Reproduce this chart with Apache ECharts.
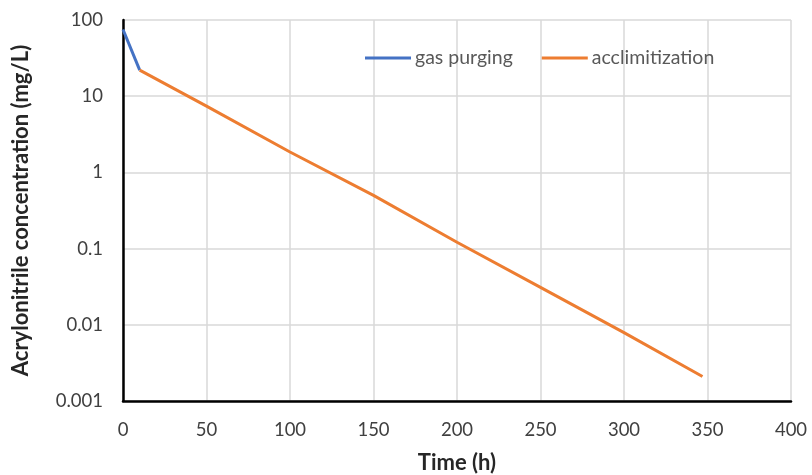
<!DOCTYPE html>
<html>
<head>
<meta charset="utf-8">
<script src="https://cdn.jsdelivr.net/npm/echarts@6/dist/echarts.min.js"></script>
<style>
  html, body { margin: 0; padding: 0; background: #fff; }
</style>
</head>
<body>
<div id="chart" style="width:812px;height:475px"></div>
<script>
// data
var purgeTime = [0, 10];
var purgeConc = [75, 22];
var acclTime = [10, 50, 100, 150, 200, 250, 300, 347];
var acclConc = [22, 7.4, 1.85, 0.5, 0.121, 0.031, 0.0079, 0.0021];
var xTicks = [0, 50, 100, 150, 200, 250, 300, 350, 400];
var yTicks = ['0.001', '0.01', '0.1', '1', '10', '100'];

function pairs(xs, ys) {
  return xs.map(function (x, i) { return [x, ys[i]]; });
}

var font = 'Lato, "Open Sans", sans-serif';

var chart = echarts.init(document.getElementById('chart'), null, { renderer: 'canvas' });
var option = {
  animation: false,
  backgroundColor: '#fff',
  grid: { left: 123, right: 21, top: 20, bottom: 74, containLabel: false, outerBoundsMode: 'none' },
  legend: {
    left: 360,
    top: 43,
    icon: 'rect',
    itemWidth: 46,
    itemHeight: 3,
    itemGap: 29,
    textStyle: { color: '#595959', fontSize: 19.5, fontFamily: font, padding: [0, 0, 0, -1] },
    data: ['gas purging', 'acclimitization']
  },
  xAxis: {
    type: 'value',
    min: xTicks[0],
    max: xTicks[xTicks.length - 1],
    interval: 50,
    name: 'Time (h)',
    nameLocation: 'middle',
    nameGap: 51,
    nameTextStyle: { fontWeight: 'bold', fontSize: 22, color: '#262626', fontFamily: font },
    axisLine: { lineStyle: { color: '#000', width: 2.5 } },
    axisTick: { show: false },
    axisLabel: { color: '#404040', fontSize: 18.5, fontFamily: font, margin: 20 },
    splitLine: { show: true, lineStyle: { color: '#d9d9d9', width: 1.5 } }
  },
  yAxis: {
    type: 'log',
    logBase: 10,
    min: Number(yTicks[0]),
    max: Number(yTicks[yTicks.length - 1]),
    name: 'Acrylonitrile concentration (mg/L)',
    nameLocation: 'middle',
    nameGap: 91,
    nameTextStyle: { fontWeight: 'bold', fontSize: 22, color: '#262626', fontFamily: font },
    axisLine: { show: true, onZero: false, lineStyle: { color: '#000', width: 2.5 } },
    axisTick: { show: false },
    axisLabel: {
      color: '#404040', fontSize: 18.5, fontFamily: font, margin: 20,
      formatter: function (v) {
        var s = yTicks.find(function (t) { return Math.abs(Number(t) - v) / v < 1e-6; });
        return s || '';
      }
    },
    splitLine: { show: true, lineStyle: { color: '#d9d9d9', width: 1.5 } }
  },
  series: [
    {
      name: 'gas purging',
      type: 'line',
      symbol: 'none',
      color: '#4472C4',
      lineStyle: { width: 3 },
      data: pairs(purgeTime, purgeConc),
      z: 3
    },
    {
      name: 'acclimitization',
      type: 'line',
      symbol: 'none',
      color: '#ED7D31',
      lineStyle: { width: 3 },
      data: pairs(acclTime, acclConc),
      z: 4
    }
  ]
};
chart.setOption(option);
</script>
</body>
</html>
